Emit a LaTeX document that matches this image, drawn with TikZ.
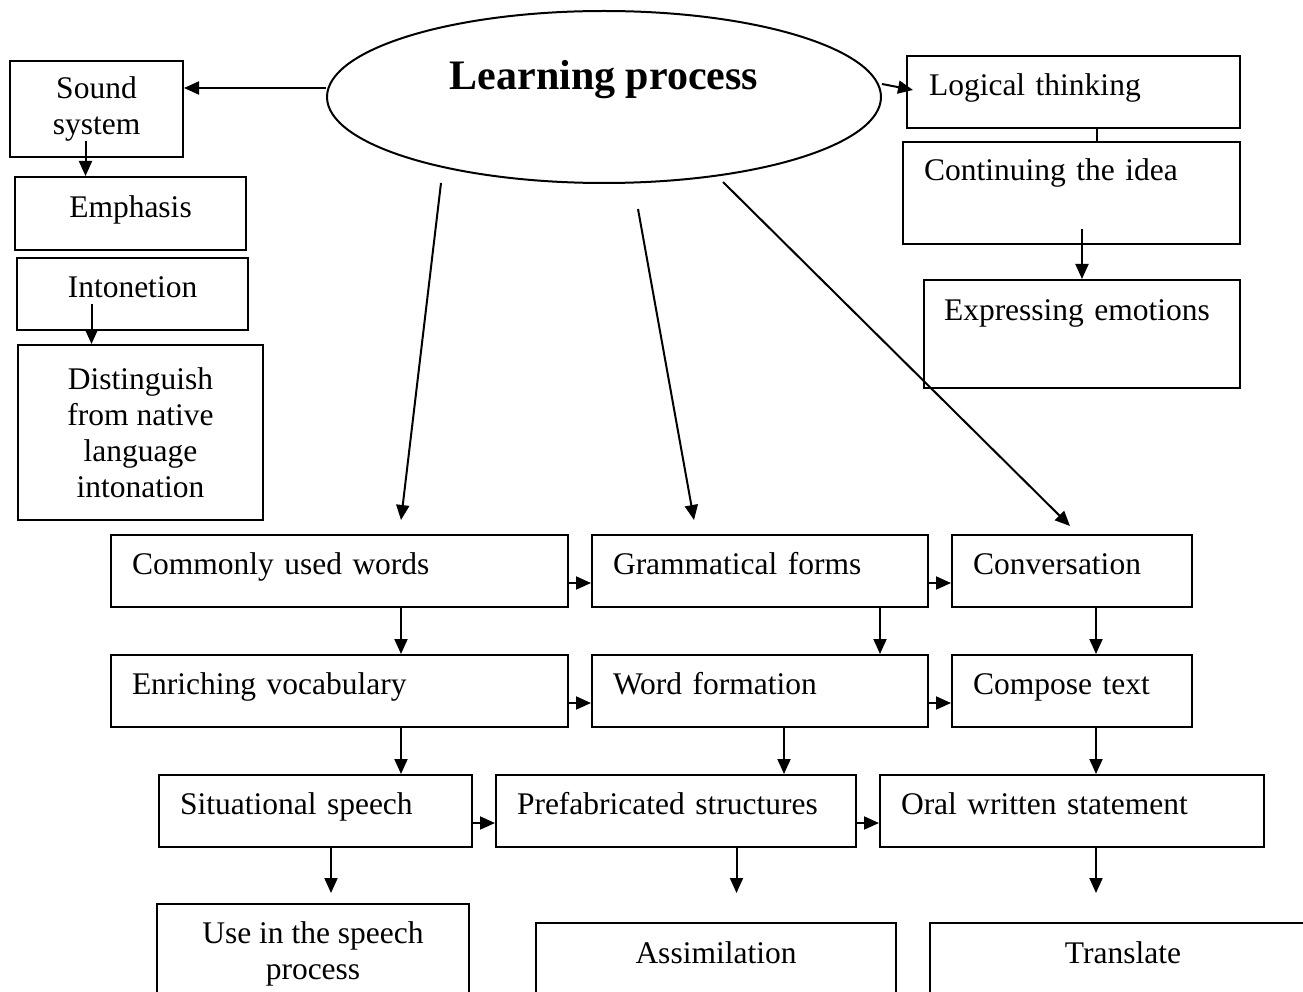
\documentclass[tikz,border=0pt]{standalone}
\usepackage{fontspec}
\setmainfont{Liberation Serif}
\usetikzlibrary{shapes.geometric, arrows.meta}

\begin{document}
\begin{tikzpicture}[x = 1pt, y = -1pt, line width = 2pt,
    >= {Triangle[length = 15pt, width = 13pt]},
    every node/.style = {font = \fontsize{31.5}{36}\selectfont, inner sep = 0pt},
    box/.style = {draw, anchor = north west},
    lbox/.style = {box, align = left, inner xsep = 21pt},
    row/.style = {lbox, text height = 39pt, text depth = 33pt}]
    \useasboundingbox (0,0) rectangle (1303,992);
    \clip (0,0) rectangle (1303,992);

    % centre
    \node[draw, ellipse, minimum width = 554pt, minimum height = 172pt,
        text height = 30pt, text depth = 44pt,
        font = \bfseries\fontsize{42}{48}\selectfont] (learn) at (604,97) {Learning process};

    % left column
    \node[box, anchor = center, align = center, minimum width = 173pt, minimum height = 96pt] (sound) at (96.5,109) {Sound\\system};
    \node[box, minimum width = 231pt, text height = 41pt, text depth = 32pt] (emph) at (14,176) {Emphasis};
    \node[box, minimum width = 231pt, text height = 40pt, text depth = 32pt] (inton) at (16,257) {Intonetion};
    \node[box, anchor = center, align = center, minimum width = 245pt, minimum height = 175pt] (dist) at (140.5,432.5) {Distinguish\\from native\\language\\intonation};

    % right column
    \node[lbox, text width = 289pt, inner xsep = 22pt, text height = 40pt, text depth = 32pt] (logic) at (906,55) {Logical thinking};
    \node[lbox, text width = 295pt, text height = 39pt, text depth = 63pt] (cont) at (902,141) {Continuing the idea};
    \node[lbox, text width = 276pt, inner xsep = 20pt, text height = 40pt, text depth = 68pt] (expr) at (923,279) {Expressing emotions};

    % rows
    \node[row, text width = 415pt] (cw) at (110,534) {Commonly used words};
    \node[row, text width = 294pt] (gf) at (591,534) {Grammatical forms};
    \node[row, text width = 198pt] (conv) at (951,534) {Conversation};
    \node[row, text width = 415pt] (ev) at (110,654) {Enriching vocabulary};
    \node[row, text width = 294pt] (wf) at (591,654) {Word formation};
    \node[row, text width = 198pt] (ct) at (951,654) {Compose text};
    \node[row, text width = 271pt] (ss) at (158,774) {Situational speech};
    \node[row, text width = 318pt] (ps) at (495,774) {Prefabricated structures};
    \node[row, text width = 342pt] (ows) at (879,774) {Oral written statement};

    % bottom
    \node[box, anchor = north, align = center, minimum width = 312pt, minimum height = 100pt] (use) at (313,903) {Use in the speech\\process};
    \node[box, minimum width = 360pt, text height = 40pt, text depth = 40pt] (assim) at (535,922) {Assimilation};
    \node[box, minimum width = 386pt, text height = 40pt, text depth = 40pt] (transl) at (929,922) {Translate};

    % connectors
    \draw[->] ([yshift = 9pt]learn.west) -- ([yshift = 9pt]learn.west -| sound.east);
    \draw[->] ([yshift = 13pt]learn.east) -- ([shift = {(7pt,2pt)}]logic.west);
    \draw ([xshift = 23pt]logic.south) -- ([xshift = 23pt]logic.south |- cont.north);
    \draw[->] ([yshift = 16pt]cont.south -| expr.north) -- (expr.north);
    \draw[->] ([shift = {(-11pt,17pt)}]sound.south) -- ([xshift = -11pt]sound.south |- emph.north);
    \draw[->] ([shift = {(-41pt,27pt)}]inton.south) -- ([xshift = -41pt]inton.south |- dist.north);

    \draw[->] ([shift = {(-163,86)}]learn.center) -- ([shift = {(61.5,-14)}]cw.north);
    \draw[->] ([shift = {(34,112)}]learn.center) -- ([shift = {(-66,-14)}]gf.north);
    \draw[->] ([shift = {(119,85)}]learn.center) -- ([shift = {(-2,-8)}]conv.north);

    \foreach \a/\b in {cw/gf, gf/conv, ev/wf, wf/ct, ss/ps, ps/ows}
        \draw[->] ([yshift = -12pt]\a.east) -- ([yshift = -12pt]\b.west);

    \draw[->] ([xshift = 61.5pt]cw.south) -- ([xshift = 61.5pt]ev.north);
    \draw[->] ([xshift = 61.5pt]ev.south) -- ([xshift = 61.5pt]ev.south |- ss.north);
    \draw[->] ([xshift = 15.5pt]ss.south) -- ([shift = {(15.5pt,10pt)}]ss.south |- use.north);
    \draw[->] ([xshift = 120pt]gf.south) -- ([xshift = 120pt]wf.north);
    \draw[->] ([xshift = 24pt]wf.south) -- ([xshift = 24pt]wf.south |- ps.north);
    \draw[->] ([xshift = 60.5pt]ps.south) -- ([shift = {(60.5pt,29pt)}]ps.south |- assim.north);
    \draw[->] ([xshift = 24pt]conv.south) -- ([xshift = 24pt]ct.north);
    \draw[->] ([xshift = 24pt]ct.south) -- ([xshift = 24pt]ows.north);
    \draw[->] ([xshift = 24pt]ows.south) -- ([shift = {(24pt,29pt)}]ows.south |- transl.north);
\end{tikzpicture}
\end{document}
